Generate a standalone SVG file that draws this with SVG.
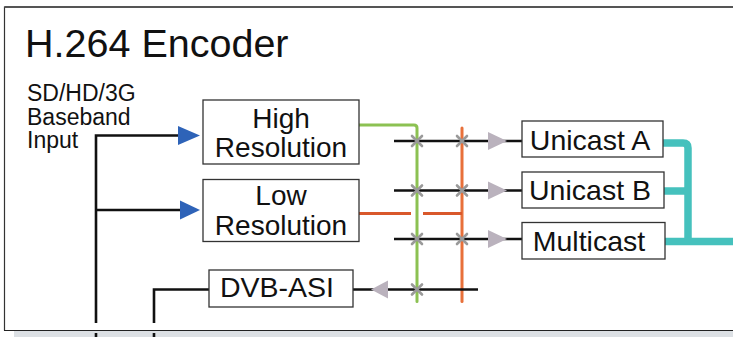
<svg xmlns="http://www.w3.org/2000/svg" width="733" height="337" viewBox="0 0 733 337">
<style>
text{font-family:"Liberation Sans",Arial,Helvetica,sans-serif;fill:#111}
.box{fill:#fff;stroke:#333;stroke-width:1.3}
.lbl{font-size:28.5px;text-anchor:middle}
.lbl2{font-size:28px;text-anchor:middle}
.blk{stroke:#111;stroke-width:2.6;fill:none}
.grn{stroke:#8cc152;stroke-width:3;fill:none;stroke-linecap:round}
.org{stroke:#e8703a;stroke-width:3;fill:none;stroke-linecap:round}
.org2{stroke:#d9582b;stroke-width:3;fill:none}
.teal{stroke:#45c1bd;stroke-width:7.5;fill:none;stroke-linejoin:round}
.xm{stroke:#9a9a9a;stroke-width:2.6;stroke-linecap:round}
.gtri{fill:#bab2bd}
.btri{fill:#2e63b8}
</style>
<defs>
<path id="xmark" class="xm" d="M-5,-5 L5,5 M-5,5 L5,-5"/>
</defs>
<rect width="733" height="337" fill="#fff"/>
<g id="frame">
<rect x="14" y="331" width="719" height="6" fill="#dce0e4"/>
<path d="M4.5,330.5 V7 H733" fill="none" stroke="#333" stroke-width="1.2"/>
<path d="M4.5,7 H733" fill="none" stroke="#555" stroke-width="2"/>
<path d="M4,330.5 H733" fill="none" stroke="#222" stroke-width="1.2"/>
<text x="25" y="57" font-size="39.5">H.264 Encoder</text>
</g>
<g id="input-label">
<text x="27" y="101" font-size="23">SD/HD/3G</text>
<text x="27" y="124.5" font-size="23">Baseband</text>
<text x="27" y="148" font-size="23">Input</text>
</g>
<g id="connectors">
<path class="blk" d="M96,323 V135.5 H180 M96,210 H182"/>
<path class="blk" d="M96,333 V337 M154,333 V337"/>
<polygon class="btri" points="178,126 200,135.5 178,145"/>
<polygon class="btri" points="180,200.5 200,210 180,219.5"/>
<path class="blk" d="M154,323 V289.5 H209"/>
<path class="grn" d="M359,125 H414 Q417,125 417,128 V301.5"/>
<path class="org" d="M462,128 V301.5"/>
<path class="org2" d="M359,213.5 H411 M423,213.5 H462"/>
<path class="blk" d="M394,141 H522 M394,190.5 H522 M394,239 H522"/>
<path class="blk" d="M353,289.5 H478"/>
<polygon class="gtri" points="488,132 507,141 488,150"/>
<polygon class="gtri" points="488,181.5 507,190.5 488,199.5"/>
<polygon class="gtri" points="488,230 507,239 488,248"/>
<polygon class="gtri" points="388,280.5 371,289.5 388,298.5"/>
<use href="#xmark" x="417" y="141"/>
<use href="#xmark" x="462" y="141"/>
<use href="#xmark" x="417" y="190.5"/>
<use href="#xmark" x="462" y="190.5"/>
<use href="#xmark" x="417" y="239"/>
<use href="#xmark" x="462" y="239"/>
<use href="#xmark" x="417" y="289.5"/>
<path class="teal" d="M663,143 H683 Q688,143 688,148 V241.5 M664,191 H688 M665,241.5 H733"/>
</g>
<g id="high-resolution">
<rect class="box" x="203" y="100" width="156" height="64"/>
<text class="lbl2" x="281" y="128">High</text>
<text class="lbl2" x="281" y="156.5">Resolution</text>
</g>
<g id="low-resolution">
<rect class="box" x="203" y="179.5" width="156" height="62"/>
<text class="lbl2" x="281" y="205">Low</text>
<text class="lbl2" x="281" y="234.5">Resolution</text>
</g>
<g id="dvb-asi">
<rect class="box" x="209" y="270" width="144" height="37"/>
<text class="lbl" x="277" y="297">DVB-ASI</text>
</g>
<g id="unicast-a">
<rect class="box" x="522" y="121" width="141" height="36"/>
<text class="lbl" x="590" y="149.5">Unicast A</text>
</g>
<g id="unicast-b">
<rect class="box" x="522" y="172" width="142" height="36"/>
<text class="lbl" x="590" y="200">Unicast B</text>
</g>
<g id="multicast">
<rect class="box" x="522" y="222.5" width="143" height="36.5"/>
<text class="lbl" x="589" y="250.5">Multicast</text>
</g>
</svg>
